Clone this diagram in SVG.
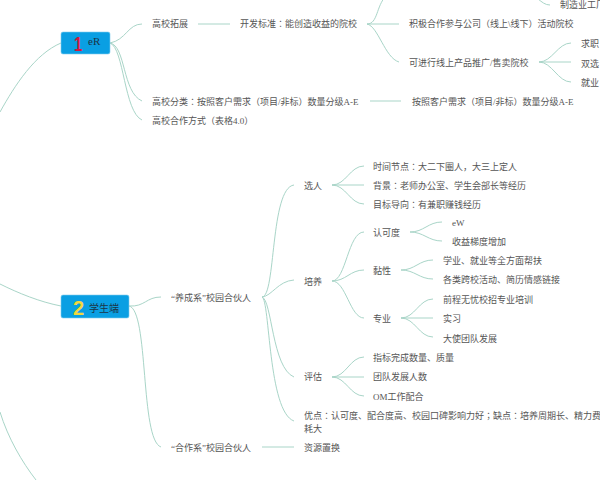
<svg xmlns="http://www.w3.org/2000/svg" width="600" height="480" viewBox="0 0 600 480">
<style>
text{font-family:"Liberation Serif","Noto Sans CJK JP",sans-serif;font-size:9px;fill:#555}
.c path{fill:none;stroke:#a9d5c8;stroke-width:1}
.top{fill:#0a9fe3;stroke:#7fcdee;stroke-width:.6}
.lab{font-size:10px;fill:#1c3446}
.num{font-family:"Liberation Sans",sans-serif;font-weight:700;font-size:20px}
</style>
<rect width="600" height="480" fill="#fff"/>
<g class="c" id="connectors">
<path d="M61 43C35 54 15 85 0 112"/>
<path d="M61 306C40 302 18 293 0 284"/>
<path d="M0 412C8 438 22 462 36 480"/>
<path d="M110 43C126 40 128 24 142 24"/>
<path d="M110 43C126 46 122 92 142 101"/>
<path d="M110 43C124 48 124 112 142 120"/>
<path d="M198 24H230"/>
<path d="M367 24C378 24 376 6 386 -4"/>
<path d="M367 24H399"/>
<path d="M367 24C378 26 385 58 399 62"/>
<path d="M538 -1C542 2 545 5 550 5"/>
<path d="M539 62C552 62 558 43 571 43"/>
<path d="M539 62H571"/>
<path d="M539 62C552 62 558 82 571 82"/>
<path d="M370 101H401"/>
<path d="M129 306C145 307 146 297 161 297"/>
<path d="M129 306C149 310 140 440 161 447"/>
<path d="M262 447H294"/>
<path d="M262 297C276 297 270 188 294 185"/>
<path d="M262 297C272 296 278 281 294 280"/>
<path d="M262 297C272 300 272 368 294 377"/>
<path d="M262 297C270 300 268 412 294 421"/>
<path d="M332 185C346 185 350 166 364 166"/>
<path d="M332 185H364"/>
<path d="M332 185C346 185 350 204 364 204"/>
<path d="M332 281C346 281 348 232 364 232"/>
<path d="M332 281C346 281 350 270 364 270"/>
<path d="M332 281C346 281 350 318 364 318"/>
<path d="M410 232C424 232 428 222 442 222"/>
<path d="M410 232C424 232 428 241 442 241"/>
<path d="M401 270C415 270 419 260 433 260"/>
<path d="M401 270C415 270 419 279 433 279"/>
<path d="M401 318C415 318 419 299 433 299"/>
<path d="M401 318H433"/>
<path d="M401 318C415 318 419 337 433 337"/>
<path d="M332 377C346 377 350 357 364 357"/>
<path d="M332 377H364"/>
<path d="M332 377C346 377 350 396 364 396"/>
</g>
<g id="n1"><rect class="top" x="61" y="32" width="49" height="22" rx="2"/><text class="num" transform="translate(74 51) scale(.75 1)" style="fill:#d3173f">1</text><text class="lab" x="88" y="45" style="font-size:11px">eR</text></g>
<g id="n2"><rect class="top" x="61" y="295" width="68" height="23" rx="2"/><text class="num" x="73" y="315" style="fill:#f4d83d">2</text><text class="lab" x="89" y="312">学生端</text></g>
<g id="a1"><text x="152" y="27">高校拓展</text></g>
<g id="a2"><text x="240" y="27">开发标准：能创造收益的院校</text></g>
<g id="a3"><text x="560" y="8">制造业工厂</text></g>
<g id="a4"><text x="409" y="27">积极合作参与公司（线上\线下）活动院校</text></g>
<g id="a5"><text x="409" y="66">可进行线上产品推广/售卖院校</text></g>
<g id="a6"><text x="581" y="47">求职</text></g>
<g id="a7"><text x="581" y="67">双选</text></g>
<g id="a8"><text x="581" y="86">就业</text></g>
<g id="a9"><text x="152" y="105">高校分类：按照客户需求（项目/非标）数量分级A-E</text></g>
<g id="a10"><text x="412" y="105">按照客户需求（项目/非标）数量分级A-E</text></g>
<g id="a11"><text x="152" y="124">高校合作方式（表格4.0）</text></g>
<g id="b1"><text x="171" y="301">“养成系”校园合伙人</text></g>
<g id="b2"><text x="171" y="451">“合作系”校园合伙人</text></g>
<g id="b3"><text x="304" y="451">资源置换</text></g>
<g id="b4"><text x="304" y="189">选人</text></g>
<g id="b5"><text x="373" y="170">时间节点：大二下圈人，大三上定人</text></g>
<g id="b6"><text x="373" y="189">背景：老师办公室、学生会部长等经历</text></g>
<g id="b7"><text x="373" y="208">目标导向：有兼职赚钱经历</text></g>
<g id="b8"><text x="304" y="285">培养</text></g>
<g id="b9"><text x="373" y="236">认可度</text></g>
<g id="b10"><text x="452" y="226">eW</text></g>
<g id="b11"><text x="452" y="245">收益梯度增加</text></g>
<g id="b12"><text x="373" y="274">黏性</text></g>
<g id="b13"><text x="443" y="264">学业、就业等全方面帮扶</text></g>
<g id="b14"><text x="443" y="283">各类跨校活动、简历情感链接</text></g>
<g id="b15"><text x="373" y="322">专业</text></g>
<g id="b16"><text x="443" y="303">前程无忧校招专业培训</text></g>
<g id="b17"><text x="443" y="322">实习</text></g>
<g id="b18"><text x="443" y="342">大使团队发展</text></g>
<g id="b19"><text x="304" y="380">评估</text></g>
<g id="b20"><text x="373" y="361">指标完成数量、质量</text></g>
<g id="b21"><text x="373" y="380">团队发展人数</text></g>
<g id="b22"><text x="373" y="400">OM工作配合</text></g>
<g id="b23"><text x="304" y="419">优点：认可度、配合度高、校园口碑影响力好；缺点：培养周期长、精力费</text><text x="304" y="432">耗大</text></g>
</svg>
